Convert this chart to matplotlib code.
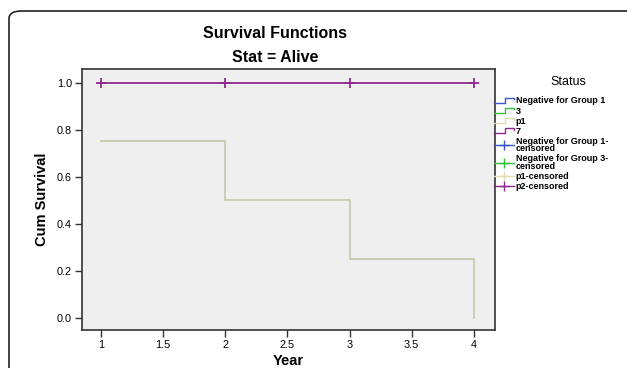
import matplotlib
matplotlib.use("Agg")
import matplotlib.pyplot as plt
from matplotlib.lines import Line2D
from matplotlib.legend_handler import HandlerBase
from matplotlib.patches import FancyBboxPatch

# Data
p1_years = [1, 2, 3, 4]
p1_surv = [0.75, 0.5, 0.25, 0.0]
p2_years = [1, 2, 3, 4]
p2_surv = [1.0, 1.0, 1.0, 1.0]
xticks = [1, 1.5, 2, 2.5, 3, 3.5, 4]
xticklabels = ["1", "1.5", "2", "2.5", "3", "3.5", "4"]
yticks = [0.0, 0.2, 0.4, 0.6, 0.8, 1.0]
legend_labels = ["Negative for Group 1", "3", "p1", "7",
                 "Negative for Group 1-\ncensored", "Negative for Group 3-\ncensored",
                 "p1-censored", "p2-censored"]
legend_colors = ["#3a55c8", "#2fbf3a", "#e2ddb0", "#8e2a8e",
                 "#3a55c8", "#2fbf3a", "#e2ddb0", "#8e2a8e"]
legend_kinds = ["step"] * 4 + ["cens"] * 4

plt.rcParams['font.family'] = ['Liberation Sans', 'DejaVu Sans']

fig = plt.figure(figsize=(6.27, 3.68), dpi=100)
fig.patch.set_facecolor("white")

# outer rounded frame
frame = FancyBboxPatch((9 / 627, -0.2), 1.2, (368 - 11) / 368 + 0.2,
                       boxstyle="round,pad=0,rounding_size=0.02",
                       transform=fig.transFigure, facecolor="none",
                       edgecolor="#222222", linewidth=1.2, zorder=0)
fig.patches.append(frame)

ax = fig.add_axes([81.7 / 627, 1 - 330 / 368, (495 - 81.7) / 627, (330 - 69.3) / 368])
ax.set_facecolor("#efefef")

# p1 step line
xs = [p1_years[0]]
ys = [p1_surv[0]]
for i in range(1, len(p1_years)):
    xs += [p1_years[i], p1_years[i]]
    ys += [p1_surv[i - 1], p1_surv[i]]
ax.plot(xs, ys, color="#c9c9b2", linewidth=1.3, zorder=3)

# p2 line with censor markers
ax.plot(p2_years, p2_surv, color="#8e2a8e", linewidth=1.3, zorder=3)
ax.plot(p2_years, p2_surv, linestyle="none", marker="+", markersize=7,
        markeredgewidth=1.3, color="#8e2a8e", zorder=4)

ax.set_xlim(0.845, 4.17)
ax.set_ylim(-0.053, 1.057)
ax.set_xticks(xticks)
ax.set_xticklabels(xticklabels)
ax.set_yticks(yticks)
ax.set_yticklabels([f"{v:.1f}" for v in yticks])
ax.tick_params(labelsize=7.8, length=5, width=1, color="#333333", pad=2)
for s in ax.spines.values():
    s.set_color("#333333")
    s.set_linewidth(1.2)

ax.set_xlabel("Year", fontsize=10.5, fontweight="bold", labelpad=3)
ax.set_ylabel("Cum Survival", fontsize=10.5, fontweight="bold", labelpad=6)

fig.text(275 / 627, 1 - 33 / 368, "Survival Functions", ha="center", va="center",
         fontsize=11.5, fontweight="bold")
fig.text(275 / 627, 1 - 57 / 368, "Stat = Alive", ha="center", va="center",
         fontsize=11.5, fontweight="bold")


class StepHandler(HandlerBase):
    def create_artists(self, legend, orig_handle, xdescent, ydescent, width, height, fontsize, trans):
        c = orig_handle.get_color()
        x0, x1 = -xdescent, -xdescent + width
        y0, y1 = -ydescent + height * 0.05, -ydescent + height * 0.95
        xm = x0 + width * 0.55
        ln = Line2D([x0, xm, xm, x1, x1], [y0, y0, y1, y1, y1 - height * 0.3],
                    color=c, linewidth=1.0, transform=trans)
        return [ln]


class CensHandler(HandlerBase):
    def create_artists(self, legend, orig_handle, xdescent, ydescent, width, height, fontsize, trans):
        c = orig_handle.get_color()
        x0, x1 = -xdescent, -xdescent + width
        yc = -ydescent + height / 2
        ln = Line2D([x0, x1], [yc, yc], color=c, linewidth=1.0, transform=trans)
        mk = Line2D([(x0 + x1) / 2], [yc], marker="+", markersize=7, markeredgewidth=1.0,
                    color=c, linestyle="none", transform=trans)
        return [ln, mk]


class StepH(Line2D):
    pass


class CensH(Line2D):
    pass


handles = []
for col, kind in zip(legend_colors, legend_kinds):
    if kind == "step":
        handles.append(StepH([], [], color=col))
    else:
        handles.append(CensH([], [], color=col))

leg = fig.legend(handles, legend_labels, loc="upper left",
                 bbox_to_anchor=(494 / 627, 1 - 76 / 368),
                 frameon=False, title="Status",
                 prop={"size": 6.5, "weight": "bold"},
                 title_fontproperties={"size": 9},
                 handler_map={StepH: StepHandler(), CensH: CensHandler()},
                 handlelength=2.2, handleheight=0.6, handletextpad=0.2, labelspacing=0.13,
                 borderpad=0, borderaxespad=0)
leg._legend_box.align = "left"
leg._legend_box.sep = 6
for t in leg.get_texts():
    t.set_linespacing(0.75)
leg.get_title().set_position((56, 0))

fig.savefig("out.png", dpi=100)
